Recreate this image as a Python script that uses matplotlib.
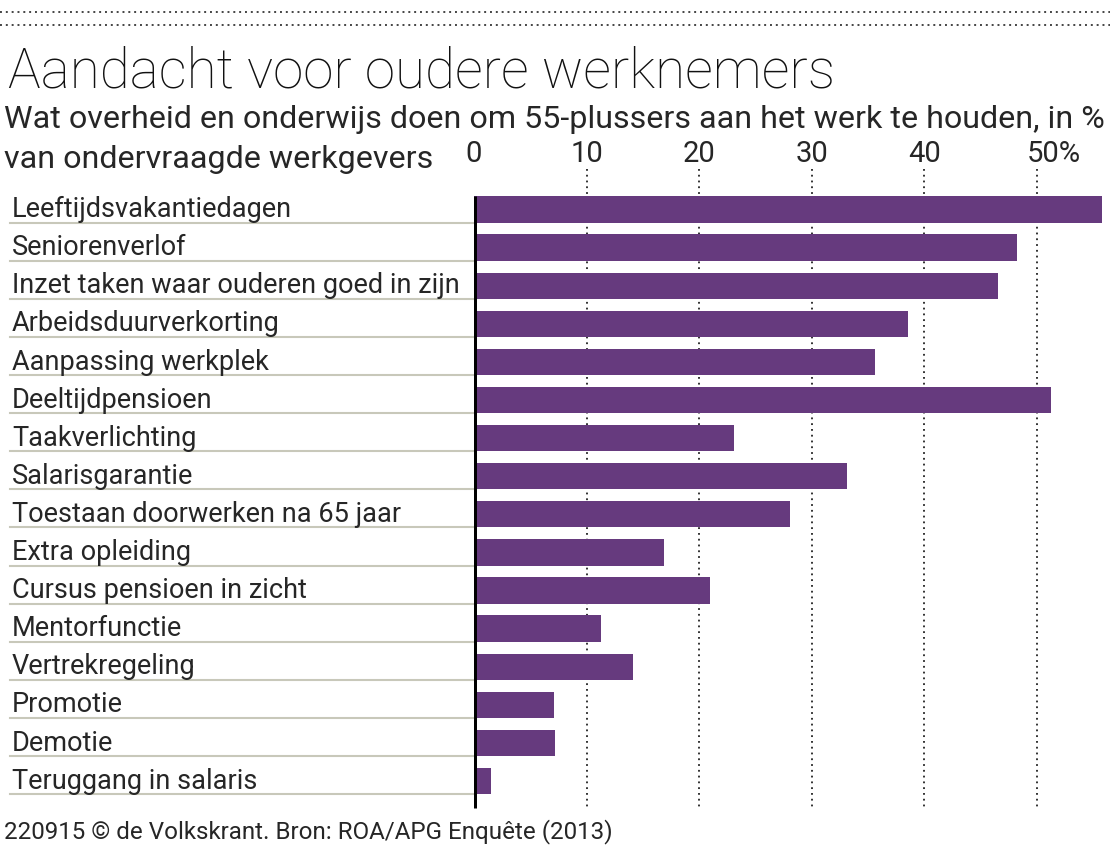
import matplotlib
matplotlib.use('Agg')
import matplotlib.pyplot as plt
import matplotlib.transforms as mtransforms
from matplotlib.lines import Line2D

#__________________________________________________________________
# Datos

categories = [
    'Leeftijdsvakantiedagen',
    'Seniorenverlof',
    'Inzet taken waar ouderen goed in zijn',
    'Arbeidsduurverkorting',
    'Aanpassing werkplek',
    'Deeltijdpensioen',
    'Taakverlichting',
    'Salarisgarantie',
    'Toestaan doorwerken na 65 jaar',
    'Extra opleiding',
    'Cursus pensioen in zicht',
    'Mentorfunctie',
    'Vertrekregeling',
    'Promotie',
    'Demotie',
    'Teruggang in salaris',
]
values = [55.8, 48.2, 46.5, 38.5, 35.6, 51.2, 23.1, 33.1, 28.1, 16.9, 21.0, 11.3, 14.1, 7.1, 7.2, 1.5]
tick_values = [0, 10, 20, 30, 40, 50]
tick_labels = ['0', '10', '20', '30', '40', '50%']

title = 'Aandacht voor oudere werknemers'
subtitle_1 = 'Wat overheid en onderwijs doen om 55-plussers aan het werk te houden, in %'
subtitle_2 = 'van ondervraagde werkgevers'
footer = '220915 © de Volkskrant. Bron: ROA/APG Enquête (2013)'

W, H = 1110, 848
BAR_COLOR = '#663a7e'
SEP_COLOR = '#c8c8ba'
TEXT_COLOR = '#262626'
FONT = ['Roboto', 'DejaVu Sans']

plt.rcParams['font.family'] = FONT


def fy(py):
    return 1 - py / H


def fx(px):
    return px / W

#__________________________________________________________________
# Grafica

fig = plt.figure(figsize=(W / 100, H / 100), dpi=100)
fig.patch.set_facecolor('white')

ax_top, ax_bot = 165, 812
ax = fig.add_axes([fx(474), fy(ax_bot), 1 - fx(474), (ax_bot - ax_top) / H])
ax.axis('off')

pitch = 38.1
row0 = 209.5
ax.set_xlim(0, (W - 474) / 11.26)
ax.set_ylim((ax_bot - row0) / pitch, (ax_top - row0) / pitch)

y_pos = list(range(len(categories)))
bar_h = 0.69

# rejilla punteada
ax.vlines(tick_values[1:], -1.05, 15.75, colors='#222222', linestyles=(0, (1, 2.2)),
          linewidth=1.3, zorder=0)

ax.barh(y_pos, values, height=bar_h, color=BAR_COLOR, zorder=2)

# eje cero
ax.vlines(0, -0.36, 15.7, colors='black', linewidth=3.6, zorder=3)

# etiquetas de categoria y separadores
trans = mtransforms.blended_transform_factory(fig.transFigure, ax.transData)
for i, name in enumerate(categories):
    ax.text(fx(12), i + 0.2, name, transform=trans, fontsize=19.5, color=TEXT_COLOR,
            ha='left', va='baseline', clip_on=False)
    line = Line2D([fx(10), fx(474)], [i + bar_h / 2, i + bar_h / 2], transform=trans,
                  color=SEP_COLOR, linewidth=1.5, clip_on=False)
    ax.add_line(line)

# etiquetas de ticks
trans_t = mtransforms.blended_transform_factory(ax.transData, fig.transFigure)
for v, lab in zip(tick_values, tick_labels):
    off = 1.45 if lab.endswith('%') else 0
    ax.text(v + off, fy(162), lab, transform=trans_t, fontsize=21, color=TEXT_COLOR,
            ha='center', va='baseline', clip_on=False)

# titulos
fig.text(fx(8), fy(88), title, fontsize=39.4, fontweight='light', color='#111111',
         ha='left', va='baseline')
fig.text(fx(4), fy(128), subtitle_1, fontsize=23.2, color=TEXT_COLOR, ha='left', va='baseline')
fig.text(fx(4), fy(168), subtitle_2, fontsize=23.2, color=TEXT_COLOR, ha='left', va='baseline')
fig.text(fx(4), fy(838), footer, fontsize=17.4, color=TEXT_COLOR, ha='left', va='baseline')

# lineas punteadas superiores
for py in (12, 25):
    fig.add_artist(Line2D([0, 1], [fy(py), fy(py)], transform=fig.transFigure,
                          color='#444444', linestyle=(0, (1, 2)), linewidth=1.4))

fig.savefig('out.png', dpi=100, facecolor='white')
